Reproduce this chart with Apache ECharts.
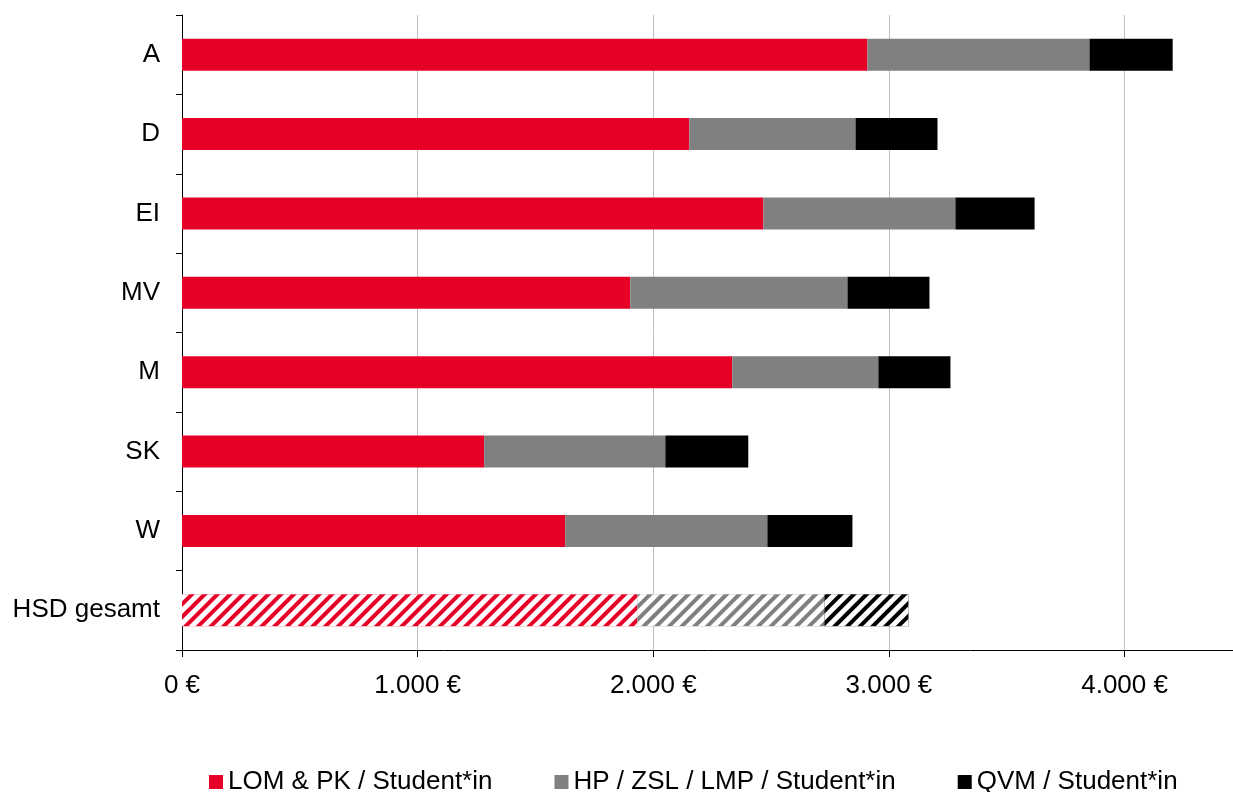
<!DOCTYPE html>
<html>
<head>
<meta charset="utf-8">
<script src="https://cdn.jsdelivr.net/npm/echarts@6/dist/echarts.min.js"></script>
<style>
  html, body { margin: 0; padding: 0; background: #fff; }
  #chart { width: 1233px; height: 792px; }
</style>
</head>
<body>
<div id="chart"></div>
<script>
// Daten
var categories = ['A', 'D', 'EI', 'MV', 'M', 'SK', 'W', 'HSD gesamt'];
var seriesNames = ['LOM & PK / Student*in', 'HP / ZSL / LMP / Student*in', 'QVM / Student*in'];
var lomPk = [2909, 2153, 2467, 1902, 2335, 1282, 1626, 1932];
var hpZslLmp = [942, 705, 815, 922, 620, 769, 858, 794];
var qvm = [353, 348, 336, 348, 306, 352, 361, 357];
var colors = ['#E60028', '#808080', '#000000'];

var FONT = '"Liberation Sans", Arial, sans-serif';

function euro(v) {
    var s = String(Math.round(v));
    s = s.replace(/\B(?=(\d{3})+(?!\d))/g, '.');
    return s + ' €';
}

// letzte Kategorie schraffiert
function withHatch(values) {
    return values.map(function(v, i) {
        if (categories[i] !== 'HSD gesamt') return v;
        return {
            value: v,
            itemStyle: {
                decal: {
                    symbol: 'rect',
                    symbolSize: 1,
                    dashArrayX: [1, 0],
                    dashArrayY: [5, 4],
                    rotation: -Math.PI / 4,
                    color: '#ffffff'
                }
            }
        };
    });
}

var chart = echarts.init(document.getElementById('chart'));

var option = {
    animation: false,
    textStyle: { fontFamily: FONT },
    grid: { left: 182, top: 15, right: 0, bottom: 142 },
    legend: {
        left: 209,
        top: 769,
        padding: 0,
        itemWidth: 14,
        itemHeight: 14,
        itemGap: 62,
        icon: 'rect',
        textStyle: { fontSize: 26, color: '#000', fontFamily: FONT },
        data: seriesNames
    },
    xAxis: {
        type: 'value',
        min: 0,
        max: 4460,
        interval: 1000,
        axisLine: { show: true, lineStyle: { color: '#000', width: 1 } },
        axisTick: { show: true, length: 7, lineStyle: { color: '#000' } },
        axisLabel: {
            fontSize: 26, color: '#000', margin: 23, showMaxLabel: false,
            formatter: euro
        },
        splitLine: { show: true, lineStyle: { color: '#BFBFBF', width: 1 } }
    },
    yAxis: {
        type: 'category',
        data: categories,
        inverse: true,
        axisLine: { show: true, lineStyle: { color: '#000', width: 1 } },
        axisTick: { show: true, length: 6, lineStyle: { color: '#000' } },
        axisLabel: { fontSize: 26, color: '#000', margin: 22 }
    },
    series: [lomPk, hpZslLmp, qvm].map(function(vals, i) {
        return {
            name: seriesNames[i],
            type: 'bar',
            stack: 'total',
            barWidth: 32,
            itemStyle: { color: colors[i] },
            data: withHatch(vals)
        };
    })
};

chart.setOption(option);
</script>
</body>
</html>
